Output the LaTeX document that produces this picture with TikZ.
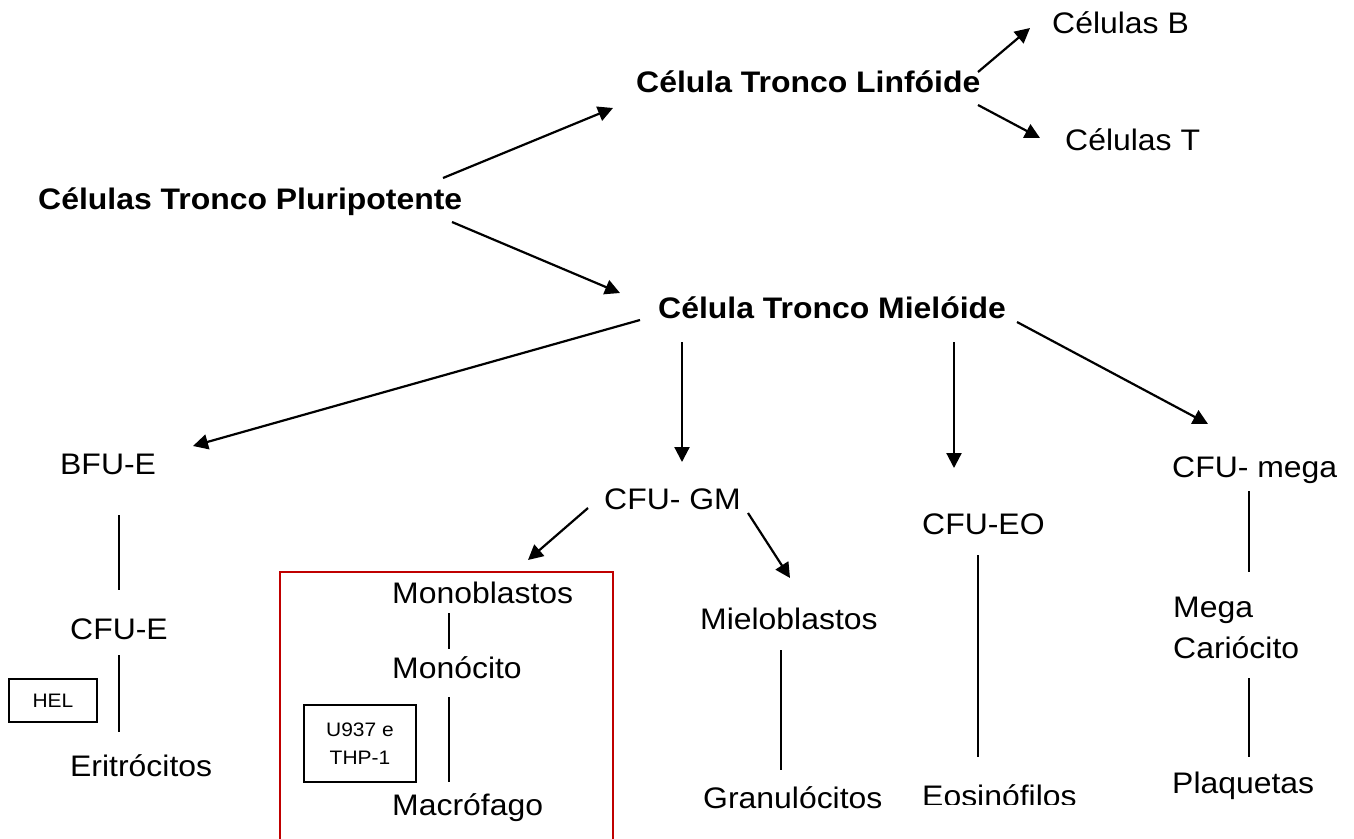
\documentclass[tikz,border=0pt]{standalone}
\usepackage{fontspec}
\setmainfont{Liberation Sans}
\usetikzlibrary{arrows.meta}
\definecolor{boxred}{RGB}{192,0,0}
\newcommand{\sx}[1]{\scalebox{1.075}[1]{#1}}
\tikzset{
  lbl/.style={inner sep=0pt, anchor=base west, font=\fontsize{29.7}{34}\selectfont},
  blbl/.style={lbl, font=\fontsize{29.7}{34}\selectfont\bfseries},
  arr/.style={line width=2.2pt, -{Triangle[length=15pt,width=15pt]}},
  ln/.style={line width=2pt},
  cellbox/.style={draw, line width=1.6pt, inner sep=0pt, align=center, font=\fontsize{19.5}{28}\selectfont}
}
\begin{document}
\begin{tikzpicture}[x=1pt,y=-1pt]
\useasboundingbox (0,0) rectangle (1354,838);
% nodes
\node[blbl] (plur) at (38,209) {\sx{Células Tronco Pluripotente}};
\node[blbl] (linf) at (636,92) {\sx{Célula Tronco Linfóide}};
\node[lbl] (cb) at (1052,33) {\sx{Células B}};
\node[lbl] (ct) at (1065,150) {\sx{Células T}};
\node[blbl] (miel) at (658,318) {\sx{Célula Tronco Mielóide}};
\node[lbl] (bfu) at (60,474) {\sx{BFU-E}};
\node[lbl] (cfue) at (70,639) {\sx{CFU-E}};
\node[lbl] (erit) at (70,776) {\sx{Eritrócitos}};
\node[cellbox, minimum width=88pt, minimum height=43pt] (hel) at (53,700.5) {\sx{HEL}};
\node[lbl] (gm) at (604,509) {\sx{CFU- GM}};
\node[lbl] (monob) at (392,603) {\sx{Monoblastos}};
\node[lbl] (monoc) at (392,678) {\sx{Monócito}};
\node[lbl] (macro) at (392,815) {\sx{Macrófago}};
\node[cellbox, minimum width=112pt, minimum height=77pt] (u937) at (360,743.5) {\sx{U937 e}\\\sx{THP-1}};
\node[lbl] (mielob) at (700,629) {\sx{Mieloblastos}};
\node[lbl] (gran) at (703,808) {\sx{Granulócitos}};
\node[lbl] (eo) at (922,534) {\sx{CFU-EO}};
\begin{scope}
\clip (900,770) rectangle (1110,804.5);
\node[lbl] (eos) at (922,806) {\sx{Eosinófilos}};
\end{scope}
\node[lbl] (mega) at (1172,477) {\sx{CFU- mega}};
\node[lbl] (megaA) at (1173,617) {\sx{Mega}};
\node[lbl] (megaB) at (1173,658) {\sx{Cariócito}};
\node[lbl] (plaq) at (1172,793) {\sx{Plaquetas}};
% red box
\draw[boxred, line width=2pt] (280,845) -- (280,572) -- (613,572) -- (613,845);
% arrows
\draw[arr] ([shift={(405,-31)}]plur.base west) -- ([shift={(-23,16)}]linf.base west);
\draw[arr] ([shift={(414,13)}]plur.base west) -- ([shift={(-38,-25)}]miel.base west);
\draw[arr] ([shift={(342,-20)}]linf.base west) -- ([shift={(-22,-5)}]cb.base west);
\draw[arr] ([shift={(342,13)}]linf.base west) -- ([shift={(-25,-12)}]ct.base west);
\draw[arr] ([shift={(-18,2)}]miel.base west) -- ([shift={(133,-28)}]bfu.base west);
\draw[arr] ([shift={(24,24)}]miel.base west) -- ([shift={(78,-47)}]gm.base west);
\draw[arr] ([shift={(296,24)}]miel.base west) -- ([shift={(32,-66)}]eo.base west);
\draw[arr] ([shift={(359,4)}]miel.base west) -- ([shift={(36,-53)}]mega.base west);
\draw[arr] ([shift={(-16,-1)}]gm.base west) -- ([shift={(136,-43)}]monob.base west);
\draw[arr] ([shift={(144,4)}]gm.base west) -- ([shift={(90,-51)}]mielob.base west);
% lines
\draw[ln] ([shift={(59,41)}]bfu.base west) -- ([shift={(49,-49)}]cfue.base west);
\draw[ln] ([shift={(49,16)}]cfue.base west) -- ([shift={(49,-44)}]erit.base west);
\draw[ln] ([shift={(57,10)}]monob.base west) -- ([shift={(57,-29)}]monoc.base west);
\draw[ln] ([shift={(57,19)}]monoc.base west) -- ([shift={(57,-33)}]macro.base west);
\draw[ln] ([shift={(81,21)}]mielob.base west) -- ([shift={(78,-38)}]gran.base west);
\draw[ln] ([shift={(56,21)}]eo.base west) -- ([shift={(56,-49)}]eos.base west);
\draw[ln] ([shift={(77,14)}]mega.base west) -- ([shift={(76,-45)}]megaA.base west);
\draw[ln] ([shift={(76,20)}]megaB.base west) -- ([shift={(77,-36)}]plaq.base west);
\end{tikzpicture}
\end{document}
